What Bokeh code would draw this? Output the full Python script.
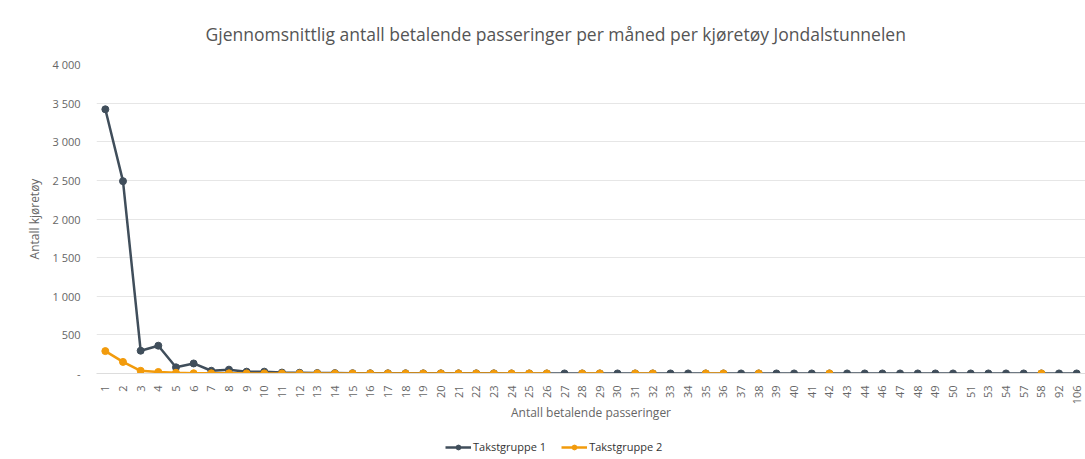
import math
from bokeh.plotting import figure
from bokeh.layouts import column
from bokeh.models import FactorRange, Range1d, FixedTicker, Legend, LegendItem, ColumnDataSource
from bokeh.embed import file_html
from bokeh.resources import INLINE

categories = [str(i) for i in range(1, 45)] + ["46", "47", "48", "49", "50", "51", "53", "54", "57", "58", "92", "106"]

takstgruppe_1 = [3420, 2490, 295, 360, 80, 130, 36, 50, 24, 24, 12, 10, 6, 5, 4, 3, 3, 3, 2, 2,
                 2, 2, 2, 1, 1, 1, 1, 1, 1, 1, 1, 1, 1, 1, 1, 1, 1, 1, 1, 1,
                 1, 1, 1, 1, 1, 1, 1, 1, 1, 1, 1, 1, 1, 1, 1, 1]

nan = float("nan")
takstgruppe_2 = [290, 150, 35, 20, 10, 3, 2, 2, 1, 1, 1, 1, 1, 1, 1, 1, 1, 1, 1, 1,
                 1, 1, 1, 1, 1, 1, nan, 1, 1, nan, 1, 1, nan, nan, 1, 1, nan, 1, nan, nan,
                 nan, 1, nan, nan, nan, nan, nan, nan, nan, nan, nan, nan, nan, 1, nan, nan]

y_ticks = [0, 500, 1000, 1500, 2000, 2500, 3000, 3500, 4000]
y_tick_labels = ["-", "500", "1 000", "1 500", "2 000", "2 500", "3 000", "3 500", "4 000"]

title_text = "Gjennomsnittlig antall betalende passeringer per måned per kjøretøy Jondalstunnelen"
series_names = ["Takstgruppe 1", "Takstgruppe 2"]
colors = ["#404e5b", "#f29b0c"]

FONT = "Open Sans"

p = figure(x_range=FactorRange(factors=categories, range_padding=0),
           y_range=Range1d(0, 4000),
           width=1085, height=435, output_backend="svg", toolbar_location=None,
           min_border_left=96, min_border_right=0, min_border_top=64, min_border_bottom=62)

p.title.text = title_text
p.title.align = "left"
p.title.offset = 109
p.title.text_font = FONT
p.title.text_font_size = "17.5px"
p.title.text_font_style = "normal"
p.title.text_color = "#555555"
p.title.standoff = 37

p.outline_line_color = None
p.background_fill_color = "white"
p.border_fill_color = "white"

p.xgrid.grid_line_color = None
p.ygrid.grid_line_color = "#e6e6e6"
p.ygrid.grid_line_width = 1

p.yaxis.ticker = FixedTicker(ticks=y_ticks)
p.yaxis.major_label_overrides = {t: l for t, l in zip(y_ticks, y_tick_labels)}
p.yaxis.axis_line_color = None
p.yaxis.major_tick_line_color = None
p.yaxis.minor_tick_line_color = None
p.yaxis.major_label_standoff = 10
p.yaxis.major_label_text_font = FONT
p.yaxis.major_label_text_font_size = "11px"
p.yaxis.major_label_text_color = "#666666"
p.yaxis.axis_label = "Antall kjøretøy"
p.yaxis.axis_label_text_font = FONT
p.yaxis.axis_label_text_font_size = "12px"
p.yaxis.axis_label_text_font_style = "normal"
p.yaxis.axis_label_text_color = "#666666"
p.yaxis.axis_label_standoff = 6

p.xaxis.axis_line_color = "#dddddd"
p.xaxis.major_tick_line_color = None
p.xaxis.minor_tick_line_color = None
p.xaxis.major_label_orientation = math.pi / 2
p.xaxis.major_label_standoff = 6
p.xaxis.major_label_text_font = FONT
p.xaxis.major_label_text_font_size = "11px"
p.xaxis.major_label_text_color = "#666666"
p.xaxis.axis_label = "Antall betalende passeringer"
p.xaxis.axis_label_text_font = FONT
p.xaxis.axis_label_text_font_size = "12px"
p.xaxis.axis_label_text_font_style = "normal"
p.xaxis.axis_label_text_color = "#666666"
p.xaxis.axis_label_standoff = -3

sources = []
for vals, col in zip([takstgruppe_1, takstgruppe_2], colors):
    src = ColumnDataSource(data=dict(x=categories, y=vals))
    sources.append(src)
    p.line("x", "y", source=src, line_color=col, line_width=2.5)
    p.scatter("x", "y", source=src, size=7, fill_color=col, line_color=col)

# legend strip below the chart (same series, drawn out of view so only the legend shows)
lg = figure(width=1085, height=24, output_backend="svg", toolbar_location=None,
            x_range=FactorRange(factors=categories), y_range=Range1d(-20000, -10000),
            x_axis_location=None, y_axis_location=None,
            min_border_left=0, min_border_right=0, min_border_top=0, min_border_bottom=0)
lg.grid.visible = False
lg.outline_line_color = None
lg.border_fill_color = "white"
items = []
for name, col, src in zip(series_names, colors, sources):
    ln = lg.line("x", "y", source=src, line_color=col, line_width=2.5)
    sc = lg.scatter("x", "y", source=src, size=7, fill_color=col, line_color=col)
    items.append(LegendItem(label=name, renderers=[ln, sc]))
legend = Legend(items=items, orientation="horizontal", location=(349, 5),
                label_text_font=FONT, label_text_font_size="11px", label_text_color="#333333",
                glyph_width=26, glyph_height=12, spacing=15, padding=2, margin=0,
                border_line_color=None, background_fill_alpha=0, label_standoff=2)
lg.add_layout(legend, "center")

layout = column(p, lg, spacing=0)
open("out.html", "w").write(file_html(layout, INLINE))
